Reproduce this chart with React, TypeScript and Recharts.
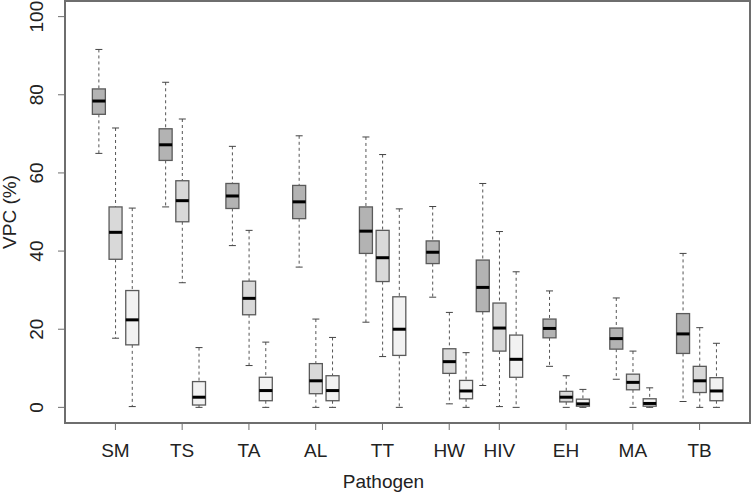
import { Bar, ComposedChart, XAxis, YAxis } from "recharts";

const pathogens = ["SM", "TS", "TA", "AL", "TT", "HW", "HIV", "EH", "MA", "TB"];
// slot of the middle box in each group (HW and HIV sit back to back)
const groupCenters = [2, 6, 10, 14, 18, 22, 25, 29, 33, 37];
const yTicks = [0, 20, 40, 60, 80, 100];

// [lower whisker, Q1, median, Q3, upper whisker]
const darkStats = [
  [65.0, 75.0, 78.4, 81.5, 91.6],
  [51.3, 63.2, 67.2, 71.3, 83.2],
  [41.4, 50.9, 54.1, 57.3, 66.8],
  [35.9, 48.3, 52.6, 56.8, 69.5],
  [21.8, 39.4, 45.1, 51.3, 69.2],
  [28.2, 36.8, 39.7, 42.6, 51.4],
  [5.6, 24.5, 30.7, 37.7, 57.3],
  [10.5, 17.8, 20.2, 22.6, 29.8],
  [7.2, 14.9, 17.6, 20.3, 28.0],
  [1.5, 13.8, 18.8, 24.0, 39.4],
];
const midStats = [
  [17.7, 37.9, 44.8, 51.3, 71.5],
  [31.9, 47.5, 52.9, 58.0, 73.8],
  [10.7, 23.7, 27.9, 32.3, 45.3],
  [0, 3.5, 6.8, 11.2, 22.6],
  [13.0, 32.2, 38.3, 45.3, 64.7],
  [0.9, 8.7, 11.7, 15.0, 24.3],
  [0.2, 14.4, 20.3, 26.7, 45.0],
  [0, 1.4, 2.6, 4.1, 8.1],
  [0, 4.5, 6.4, 8.5, 14.4],
  [0, 3.8, 6.8, 10.5, 20.4],
];
const lightStats = [
  [0.2, 16.0, 22.4, 29.9, 51.0],
  [0, 0.6, 2.6, 6.6, 15.3],
  [0, 1.7, 4.3, 7.7, 16.7],
  [0, 1.7, 4.3, 8.1, 17.9],
  [0, 13.3, 20.0, 28.3, 50.8],
  [0, 2.2, 4.2, 6.9, 14.0],
  [0, 7.7, 12.3, 18.5, 34.7],
  [0, 0.3, 0.9, 2.1, 4.6],
  [0, 0.3, 1.0, 2.2, 5.0],
  [0, 1.7, 4.2, 7.6, 16.4],
];

const FILLS = ["#b3b3b3", "#d9d9d9", "#f2f2f2"];
const FRAME = "#6e6e6e";
const TEXT = "#222222";
const FONT = "'Liberation Sans', Arial, sans-serif";

const rows = pathogens.flatMap((p, i) =>
  [darkStats, midStats, lightStats].map((s, k) => ({
    pathogen: p,
    pos: groupCenters[i] + k - 1,
    stats: s[i],
    tone: k,
  }))
);

function BoxShape(props: any) {
  const { x, y, width, height } = props;
  const d = props.payload ?? props;
  const [lo, q1, med, q3, hi] = d.stats;
  const top = Math.min(y, y + height);
  const span = Math.abs(height);
  // value -> pixel, interpolated between the bar's own lo/hi ends
  const py = (v: number) => top + (span * (hi - v)) / (hi - lo);
  const cx = x + width / 2;
  const cap = 3.5;
  return (
    <g>
      <line x1={cx} x2={cx} y1={py(hi)} y2={py(q3)} stroke="#555" strokeDasharray="3 3" />
      <line x1={cx} x2={cx} y1={py(q1)} y2={py(lo)} stroke="#555" strokeDasharray="3 3" />
      <line x1={cx - cap} x2={cx + cap} y1={py(hi)} y2={py(hi)} stroke="#444" />
      <line x1={cx - cap} x2={cx + cap} y1={py(lo)} y2={py(lo)} stroke="#444" />
      <rect
        x={x}
        y={py(q3)}
        width={width}
        height={py(q1) - py(q3)}
        fill={FILLS[d.tone]}
        stroke="#5a5a5a"
        strokeWidth={1.3}
      />
      <line x1={x} x2={x + width} y1={py(med)} y2={py(med)} stroke="#000" strokeWidth={3} />
    </g>
  );
}

function XTick(props: any) {
  const { x, payload } = props;
  const i = groupCenters.indexOf(payload.value);
  return (
    <text x={x} y={457} textAnchor="middle" fill={TEXT} fontSize={19} fontFamily={FONT}>
      {pathogens[i]}
    </text>
  );
}

function YTick(props: any) {
  const { y, payload } = props;
  return (
    <text
      x={36}
      y={y}
      dy="0.36em"
      transform={`rotate(-90, 36, ${y})`}
      textAnchor="middle"
      fill={TEXT}
      fontSize={19}
      fontFamily={FONT}
    >
      {payload.value}
    </text>
  );
}

export default function App() {
  return (
    <div style={{ position: "absolute", left: 0, top: 0, width: 752, height: 493, background: "#fff" }}>
      <div style={{ position: "absolute", left: 0, top: 0 }}>
        <ComposedChart
          width={752}
          height={493}
          data={rows}
          margin={{ top: 1, right: 2, bottom: 0, left: 0 }}
        >
          <XAxis
            dataKey="pos"
            type="number"
            domain={[-1.02, 40.02]}
            allowDataOverflow
            ticks={groupCenters}
            interval={0}
            axisLine={false}
            tickLine={{ stroke: FRAME }}
            tickSize={7}
            tick={<XTick />}
            height={70}
            label={{
              value: "Pathogen",
              position: "insideBottom",
              offset: 0,
              dx: -24,
              dy: -5,
              fill: TEXT,
              fontSize: 19,
              fontFamily: FONT,
            }}
          />
          <YAxis
            type="number"
            domain={[-4, 104]}
            allowDataOverflow
            ticks={yTicks}
            interval={0}
            width={65}
            axisLine={false}
            tickLine={{ stroke: FRAME }}
            tickSize={7}
            tick={<YTick />}
            label={{
              value: "VPC (%)",
              angle: -90,
              position: "insideLeft",
              offset: 9,
              style: { textAnchor: "middle" },
              fill: TEXT,
              fontSize: 19,
              fontFamily: FONT,
            }}
          />
          <Bar
            dataKey={(d: any) => [d.stats[0], d.stats[4]]}
            barSize={13}
            shape={BoxShape}
            isAnimationActive={false}
          />
        </ComposedChart>
      </div>
      {/* box around the plot region */}
      <svg
        width={752}
        height={493}
        style={{ position: "absolute", left: 0, top: 0, zIndex: 2, pointerEvents: "none" }}
      >
        <rect x={65} y={1} width={685} height={422} fill="none" stroke={FRAME} strokeWidth={2} />
      </svg>
    </div>
  );
}
